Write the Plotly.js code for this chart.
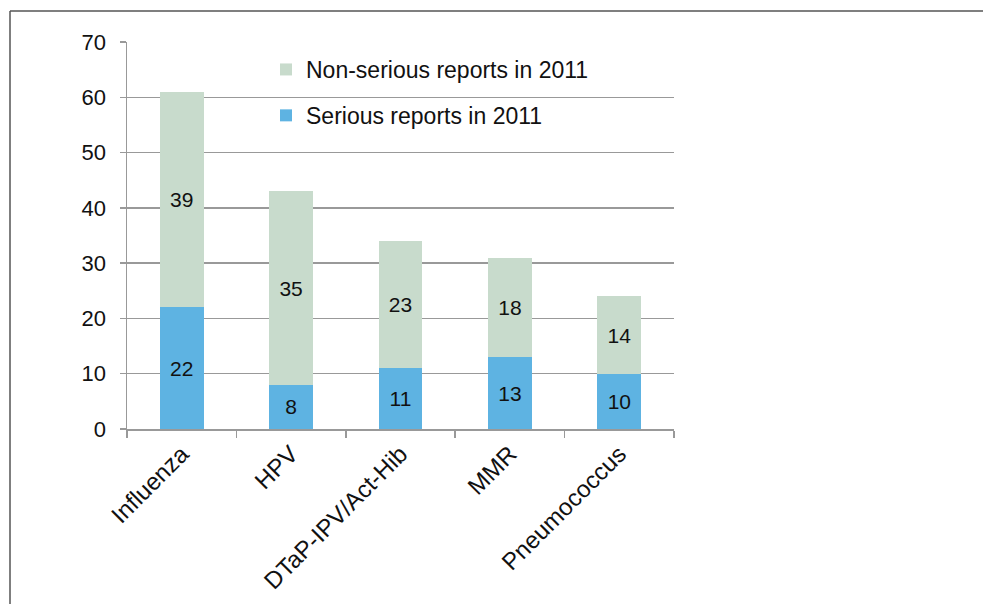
<!DOCTYPE html>
<html><head><meta charset="utf-8">
<script src="https://cdn.plot.ly/plotly-3.0.1.min.js"></script>
<style>html,body{margin:0;padding:0;background:#fff;}#chart{width:983px;height:604px;}</style>
</head><body><div id="chart"></div>
<script>
const categories = ["Influenza", "HPV", "DTaP-IPV/Act-Hib", "MMR", "Pneumococcus"];
const seriousReports = [22, 8, 11, 13, 10];
const nonSeriousReports = [39, 35, 23, 18, 14];
const seriesNames = ["Serious reports in 2011", "Non-serious reports in 2011"];
const yTicks = [0, 10, 20, 30, 40, 50, 60, 70];

const W = 983, H = 604;
const m = {l: 127, r: 309, t: 42, b: 175};
const pw = W - m.l - m.r, ph = H - m.t - m.b;
const px = v => (v - m.l) / pw;
const py = v => 1 - (v - m.t) / ph;

const font = "Liberation Sans, Arial, sans-serif";
const textFont = {family: font, size: 21, color: "#111"};

const traces = [
  {type: "bar", name: seriesNames[0], x: categories, y: seriousReports,
   text: seriousReports.map(String), textposition: "inside", insidetextanchor: "middle",
   textfont: textFont, marker: {color: "#5eb3e2"}, legendgroup: "b", legendrank: 2, textangle: 0},
  {type: "bar", name: seriesNames[1], x: categories, y: nonSeriousReports,
   text: nonSeriousReports.map(String), textposition: "inside", insidetextanchor: "middle",
   textfont: textFont, marker: {color: "#c8dbcc"}, legendgroup: "a", legendrank: 1, textangle: 0}
];

const layout = {
  width: W, height: H, margin: m,
  paper_bgcolor: "#fff", plot_bgcolor: "#fff",
  barmode: "stack", bargap: 0.6,
  font: {family: font, color: "#111"},
  showlegend: true,
  legend: {x: px(266), y: py(48), xanchor: "left", yanchor: "top",
           traceorder: "grouped", tracegroupgap: 13,
           font: {family: font, size: 23, color: "#111"}, bgcolor: "rgba(0,0,0,0)"},
  xaxis: {tickson: "boundaries", ticks: "outside", ticklen: 7, tickcolor: "#999", tickwidth: 1.5,
          showline: true, linecolor: "#999", linewidth: 1.5, tickangle: -45,
          tickfont: {family: font, size: 24, color: "#111"}, showgrid: false, fixedrange: true},
  yaxis: {range: [0, 70], tickvals: yTicks, ticks: "outside", ticklen: 6, tickcolor: "#999", tickwidth: 1.5,
          showline: true, linecolor: "#999", linewidth: 1.5, showgrid: true, gridcolor: "#999", gridwidth: 1.5,
          tickfont: {family: font, size: 22, color: "#111"}, ticklabelstandoff: 9, zeroline: false, fixedrange: true},
  shapes: [
    {type: "line", xref: "paper", yref: "paper", x0: px(10), x1: px(983), y0: py(11), y1: py(11),
     line: {color: "#555", width: 1.5}},
    {type: "line", xref: "paper", yref: "paper", x0: px(10), x1: px(10), y0: py(11), y1: py(604),
     line: {color: "#555", width: 1.5}}
  ]
};

Plotly.newPlot("chart", traces, layout, {displayModeBar: false, staticPlot: true});
</script></body></html>
